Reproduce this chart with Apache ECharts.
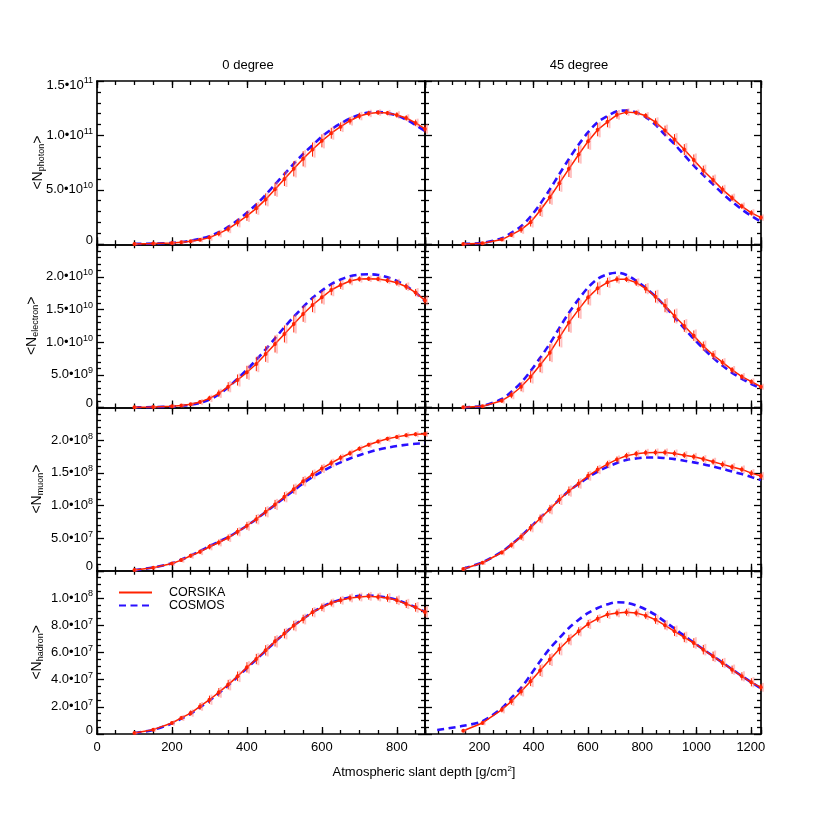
<!DOCTYPE html>
<html><head><meta charset="utf-8">
<script src="https://cdn.jsdelivr.net/npm/echarts@6/dist/echarts.min.js"></script>
<style>html,body{margin:0;padding:0;background:#fff}#c{width:817px;height:817px}</style>
</head><body><div id="c"></div>
<script>
// ---------------- DATA ----------------
const depth0 = [100,150,200,225,250,275,300,325,350,375,400,425,450,475,500,525,550,575,600,625,650,675,700,725,750,775,800,825,850,875];
const depth45 = [141,212,283,318,354,389,424,460,495,530,566,601,636,672,707,742,778,813,849,884,919,955,990,1025,1061,1096,1131,1167,1202,1237];
const depth45CosmosHadron = [45,141,212,283,318,354,389,424,460,495,530,566,601,636,672,707,742,778,813,849,884,919,955,990,1025,1061,1096,1131,1167,1202,1237];

const panelTitles = ['0 degree', '45 degree'];
const particles = ['photon', 'electron', 'muon', 'hadron'];
const seriesNames = ['CORSIKA', 'COSMOS'];
const xAxisTitle = 'Atmospheric slant depth [g/cm{s|2}]';

// unit of each row's value arrays
const rowUnit = [1e10, 1e9, 1e7, 1e7];

// photon (x1e10)
const photon0Corsika = [0.03,0.06,0.12,0.18,0.27,0.42,0.61,0.98,1.41,1.99,2.6,3.3,4.12,5.05,6.0,6.93,7.85,8.7,9.5,10.2,10.8,11.35,11.78,12.02,12.1,12.05,11.88,11.6,11.15,10.6];
const photon0Cosmos  = [0.03,0.06,0.13,0.2,0.32,0.5,0.74,1.1,1.6,2.2,2.9,3.65,4.55,5.5,6.45,7.4,8.3,9.1,9.9,10.55,11.1,11.55,11.9,12.1,12.15,12.05,11.82,11.45,10.95,10.4];
const photon0Err     = [0.03,0.05,0.08,0.1,0.12,0.15,0.2,0.25,0.3,0.35,0.45,0.5,0.55,0.6,0.65,0.7,0.7,0.65,0.6,0.5,0.4,0.35,0.3,0.25,0.2,0.2,0.25,0.25,0.3,0.35];
const photon45Corsika = [0.03,0.1,0.43,0.86,1.35,2.03,3.1,4.32,5.61,6.93,8.25,9.47,10.52,11.25,11.89,12.14,12.08,11.8,11.22,10.45,9.62,8.7,7.75,6.77,5.91,5.02,4.26,3.49,2.88,2.45];
const photon45Cosmos  = [0.03,0.12,0.55,1.05,1.65,2.55,3.7,5.05,6.45,7.84,9.16,10.3,11.22,11.78,12.23,12.29,12.1,11.68,10.98,10.05,9.2,8.18,7.22,6.35,5.5,4.66,3.9,3.2,2.6,2.08];
const photon45Err     = [0.03,0.05,0.1,0.2,0.3,0.4,0.5,0.6,0.7,0.75,0.75,0.7,0.6,0.5,0.35,0.25,0.2,0.25,0.35,0.45,0.5,0.5,0.5,0.45,0.4,0.35,0.3,0.25,0.25,0.2];

// electron (x1e9)
const electron0Corsika = [0.03,0.07,0.2,0.3,0.5,0.85,1.4,2.17,3.18,4.21,5.39,6.66,8.19,9.72,11.26,12.79,14.32,15.7,16.87,17.99,18.76,19.37,19.68,19.73,19.68,19.45,19.1,18.5,17.6,16.4];
const electron0Cosmos  = [0.03,0.06,0.15,0.25,0.42,0.72,1.2,2.0,3.1,4.4,5.8,7.3,8.9,10.6,12.3,13.9,15.4,16.8,17.9,18.9,19.6,20.1,20.35,20.4,20.3,19.95,19.4,18.6,17.6,16.3];
const electron0Err     = [0.03,0.05,0.1,0.15,0.2,0.3,0.4,0.55,0.7,0.85,1.0,1.1,1.2,1.3,1.3,1.3,1.2,1.1,0.95,0.8,0.6,0.5,0.4,0.35,0.35,0.4,0.45,0.5,0.55,0.6];
const electron45Corsika = [0.03,0.2,1.04,1.92,3.18,4.72,6.5,8.4,10.75,13.0,15.03,16.87,18.25,19.17,19.63,19.63,19.12,18.2,16.97,15.59,14.0,12.48,11.0,9.4,8.04,6.9,5.75,4.72,3.96,3.18];
const electron45Cosmos  = [0.03,0.25,1.3,2.4,3.8,5.6,7.6,9.8,12.2,14.5,16.6,18.4,19.7,20.4,20.65,20.3,19.4,18.3,17.0,15.5,13.8,12.1,10.5,9.0,7.6,6.4,5.3,4.4,3.6,2.9];
const electron45Err     = [0.03,0.1,0.3,0.5,0.7,0.9,1.1,1.3,1.4,1.4,1.3,1.1,0.9,0.7,0.5,0.4,0.5,0.7,0.9,1.0,1.0,0.9,0.8,0.7,0.6,0.5,0.45,0.4,0.35,0.3];

// muon (x1e7)
const muon0Corsika = [0.1,0.46,1.12,1.63,2.3,2.9,3.68,4.33,5.05,5.97,6.89,7.9,9.03,10.15,11.33,12.5,13.72,14.75,15.67,16.5,17.3,18.0,18.7,19.3,19.8,20.2,20.5,20.75,20.9,20.95];
const muon0Cosmos  = [0.1,0.5,1.15,1.7,2.35,3.0,3.75,4.45,5.15,6.0,6.9,7.9,9.0,10.1,11.2,12.3,13.4,14.35,15.2,15.95,16.6,17.2,17.7,18.15,18.55,18.85,19.1,19.3,19.45,19.55];
const muon0Err     = [0.05,0.1,0.2,0.25,0.3,0.35,0.4,0.45,0.5,0.55,0.6,0.65,0.7,0.7,0.7,0.7,0.65,0.6,0.55,0.5,0.45,0.4,0.35,0.3,0.3,0.3,0.3,0.3,0.3,0.3];
const muon45Corsika = [0.26,1.23,2.8,3.93,5.2,6.59,8.0,9.44,10.92,12.2,13.37,14.54,15.5,16.33,17.05,17.6,17.9,18.07,18.12,18.12,17.97,17.7,17.45,17.1,16.7,16.29,15.88,15.52,14.95,14.5];
const muon45Cosmos  = [0.3,1.3,2.9,4.0,5.3,6.7,8.1,9.5,10.9,12.2,13.3,14.3,15.2,15.9,16.5,16.95,17.2,17.35,17.35,17.25,17.1,16.85,16.6,16.3,15.95,15.6,15.2,14.8,14.35,13.9];
const muon45Err     = [0.1,0.2,0.3,0.4,0.5,0.55,0.6,0.65,0.7,0.7,0.65,0.6,0.55,0.5,0.45,0.45,0.45,0.45,0.45,0.45,0.45,0.45,0.45,0.45,0.45,0.45,0.45,0.45,0.45,0.45];

// hadron (x1e7)
const hadron0Corsika = [0.07,0.32,0.81,1.18,1.54,2.03,2.52,3.06,3.63,4.24,4.9,5.51,6.15,6.81,7.38,7.97,8.45,8.95,9.31,9.63,9.83,10.0,10.07,10.12,10.07,10.0,9.83,9.56,9.31,8.97];
const hadron0Cosmos  = [0.07,0.3,0.78,1.13,1.5,1.97,2.45,3.0,3.58,4.2,4.85,5.48,6.12,6.78,7.38,7.97,8.47,8.95,9.33,9.66,9.88,10.05,10.15,10.18,10.12,10.02,9.85,9.6,9.32,8.98];
const hadron0Err     = [0.03,0.08,0.12,0.15,0.2,0.25,0.3,0.32,0.35,0.35,0.38,0.38,0.38,0.38,0.35,0.35,0.32,0.3,0.28,0.25,0.25,0.25,0.25,0.25,0.25,0.28,0.28,0.3,0.32,0.35];
const hadron45Corsika = [0.24,0.81,1.79,2.4,3.13,3.87,4.66,5.47,6.25,6.94,7.55,8.09,8.48,8.78,8.9,8.95,8.9,8.7,8.4,7.99,7.55,7.1,6.69,6.2,5.71,5.22,4.73,4.24,3.8,3.43];
const hadron45Cosmos  = [0.3,0.6,0.95,1.9,2.65,3.4,4.35,5.35,6.3,7.06,7.79,8.4,8.9,9.26,9.53,9.68,9.65,9.45,9.15,8.75,8.25,7.75,7.22,6.72,6.22,5.73,5.24,4.75,4.26,3.8,3.35];
const hadron45Err     = [0.05,0.1,0.2,0.25,0.3,0.35,0.4,0.4,0.4,0.35,0.3,0.3,0.25,0.25,0.25,0.25,0.25,0.25,0.3,0.3,0.35,0.35,0.35,0.35,0.35,0.3,0.3,0.3,0.3,0.25];

// axis ranges and tick labels
const xMax = [875, 1237.4];
const xMajorStep = 200, xMinorStep = 50;
const xTickLabels0 = [0,200,400,600,800];
const xTickLabels45 = [200,400,600,800,1000,1200];
const yMax = [1.5e11, 2.5e10, 2.5e8, 1.2e8];
const yStep = [5e10, 5e9, 5e7, 2e7];
const yMinorSplit = [5, 5, 5, 4];
const photonTickLabels = [0, 5e10, 1e11, 1.5e11];
const electronTickLabels = [0, 5e9, 1e10, 1.5e10, 2e10];
const muonTickLabels = [0, 5e7, 1e8, 1.5e8, 2e8];
const hadronTickLabels = [0, 2e7, 4e7, 6e7, 8e7, 1e8];

// ---------------- BUILD ----------------
const panels = [
  [[photon0Corsika, photon0Cosmos, photon0Err], [photon45Corsika, photon45Cosmos, photon45Err]],
  [[electron0Corsika, electron0Cosmos, electron0Err], [electron45Corsika, electron45Cosmos, electron45Err]],
  [[muon0Corsika, muon0Cosmos, muon0Err], [muon45Corsika, muon45Cosmos, muon45Err]],
  [[hadron0Corsika, hadron0Cosmos, hadron0Err], [hadron45Corsika, hadron45Cosmos, hadron45Err]]
];
const yTickLabels = [photonTickLabels, electronTickLabels, muonTickLabels, hadronTickLabels];
const xTickLabels = [xTickLabels0, xTickLabels45];

const FONT = 'Liberation Sans, Arial, Helvetica, sans-serif';
const RED = '#ff2200', BLUE = '#2a10ff';
const GRID_LEFT = [97, 425], GRID_W = [328, 336];
const GRID_TOP = 81, GRID_H = 163.25;
const nameGaps = [51, 57, 52, 52];

const axisLineStyle = {show: true, onZero: false, lineStyle: {color: '#000', width: 1.7}};
const tickStyle = {color: '#000', width: 1.3};

const grids = [], xAxes = [], yAxes = [], series = [];

function near(list, v) { return list.some(t => Math.abs(t - v) <= Math.abs(t) * 1e-6 + 1e-9); }

function yFormatter(r) {
  return function (v) {
    if (!near(yTickLabels[r], v)) return '';
    if (Math.abs(v) < 1e-12) return '{z|0}';
    const e = Math.floor(Math.log10(v) + 1e-9);
    const m = (v / Math.pow(10, e)).toFixed(1);
    if (Math.abs(v - yMax[r]) < yMax[r] * 1e-6) return '{bT|' + m + '•10}{sT|' + e + '}';
    return '{b|' + m + '•10}{s|' + e + '}';
  };
}
const yRich = {
  b: {fontSize: 13, lineHeight: 15, fontFamily: FONT, color: '#000'},
  s: {fontSize: 9, lineHeight: 9, padding: [0, 0, 8, 0], fontFamily: FONT, color: '#000'},
  z: {fontSize: 13, lineHeight: 15, padding: [0, 0, 8, 0], fontFamily: FONT, color: '#000'},
  bT: {fontSize: 13, lineHeight: 15, padding: [8, 0, 0, 0], fontFamily: FONT, color: '#000'},
  sT: {fontSize: 9, lineHeight: 9, fontFamily: FONT, color: '#000'}
};

function renderErr(params, api) {
  const x = api.value(0), y = api.value(1), e = api.value(2);
  const lo = api.coord([x, y - e]), hi = api.coord([x, y + e]);
  return {type: 'group', children: [
    {type: 'line', shape: {x1: lo[0] + 2, y1: lo[1] + 1, x2: hi[0] + 2, y2: hi[1] - 1}, style: {stroke: 'rgba(255,120,120,0.45)', lineWidth: 2}},
    {type: 'line', shape: {x1: lo[0], y1: lo[1], x2: hi[0], y2: hi[1]}, style: {stroke: RED, lineWidth: 1}}
  ]};
}

for (let r = 0; r < 4; r++) {
  for (let c = 0; c < 2; c++) {
    const gi = r * 2 + c;
    grids.push({left: GRID_LEFT[c], top: GRID_TOP + r * GRID_H, width: GRID_W[c], height: GRID_H, outerBoundsMode: 'none', containLabel: false});
    const labelList = xTickLabels[c];
    ['bottom', 'top'].forEach(pos => {
      xAxes.push({
        type: 'value', gridIndex: gi, position: pos, min: 0, max: xMax[c], interval: xMajorStep,
        axisLine: axisLineStyle,
        axisTick: {show: true, inside: true, length: 7, lineStyle: tickStyle},
        splitLine: {show: false},
        axisLabel: {
          show: pos === 'bottom' && r === 3, margin: 7, fontSize: 13, fontFamily: FONT, color: '#000',
          showMinLabel: true, showMaxLabel: true,
          formatter: v => near(labelList, v) ? String(v) : ''
        }
      });
      xAxes.push({
        type: 'value', gridIndex: gi, position: pos, min: 0, max: xMax[c], interval: xMinorStep,
        axisLine: {show: false, onZero: false},
        axisTick: {show: true, inside: true, length: 4, lineStyle: tickStyle},
        splitLine: {show: false}, axisLabel: {show: false}
      });
    });
    ['left', 'right'].forEach(pos => {
      const ax = {
        type: 'value', gridIndex: gi, position: pos, min: 0, max: yMax[r], interval: yStep[r],
        axisLine: axisLineStyle,
        axisTick: {show: true, inside: true, length: 7, lineStyle: tickStyle},
        minorTick: {show: true, splitNumber: yMinorSplit[r], length: 4, lineStyle: tickStyle},
        splitLine: {show: false}, minorSplitLine: {show: false},
        axisLabel: {show: pos === 'left' && c === 0, margin: 4, formatter: yFormatter(r), rich: yRich,
                    showMinLabel: true, showMaxLabel: true}
      };
      if (pos === 'left' && c === 0) {
        ax.name = '<N{sub|' + particles[r] + '}>';
        ax.nameLocation = 'middle';
        ax.nameRotate = 90;
        ax.nameGap = nameGaps[r];
        ax.nameMoveOverlap = false;
        ax.nameTextStyle = {fontSize: 14, lineHeight: 16, fontFamily: FONT, color: '#000',
          rich: {sub: {fontSize: 9, lineHeight: 9, padding: [7, 0, 0, 0], fontFamily: FONT, color: '#000'}}};
      }
      yAxes.push(ax);
    });

    const [corsika, cosmos, err] = panels[r][c];
    const xs = c === 0 ? depth0 : depth45;
    const xsCosmos = (c === 1 && r === 3) ? depth45CosmosHadron : xs;
    const unit = rowUnit[r];
    const xIdx = gi * 4, yIdx = gi * 2;
    series.push({
      name: seriesNames[1], type: 'line', xAxisIndex: xIdx, yAxisIndex: yIdx,
      data: xsCosmos.map((d, i) => [d, cosmos[i] * unit]),
      showSymbol: false, symbol: 'none', smooth: 0.3, z: 2,
      lineStyle: {color: BLUE, width: 2.6, type: [7, 4.5]}, itemStyle: {color: BLUE},
      silent: true, animation: false
    });
    series.push({
      name: seriesNames[0], type: 'line', xAxisIndex: xIdx, yAxisIndex: yIdx,
      data: xs.map((d, i) => [d, corsika[i] * unit]),
      symbol: 'circle', symbolSize: 4, showSymbol: true, z: 3,
      lineStyle: {color: RED, width: 1.5}, itemStyle: {color: RED},
      silent: true, animation: false
    });
    series.push({
      name: 'err', type: 'custom', xAxisIndex: xIdx, yAxisIndex: yIdx,
      data: xs.map((d, i) => [d, corsika[i] * unit, err[i] * unit]),
      encode: {x: 0, y: 1}, renderItem: renderErr, z: 4, silent: true, animation: false
    });
  }
}

const option = {
  animation: false,
  backgroundColor: '#fff',
  textStyle: {fontFamily: FONT},
  grid: grids, xAxis: xAxes, yAxis: yAxes, series: series,
  legend: {
    data: seriesNames, orient: 'vertical', left: 118, top: 586, itemWidth: 33, itemHeight: 12,
    itemGap: 0, padding: 0, selectedMode: false,
    itemStyle: {opacity: 0},
    textStyle: {fontSize: 12.5, color: '#000', fontFamily: FONT, padding: [0, 0, 0, 12], lineHeight: 12}
  },
  graphic: [
    {type: 'text', x: 248, y: 65, style: {text: panelTitles[0], font: '13px ' + FONT, fill: '#000', align: 'center', verticalAlign: 'middle'}},
    {type: 'text', x: 579, y: 65, style: {text: panelTitles[1], font: '13px ' + FONT, fill: '#000', align: 'center', verticalAlign: 'middle'}},
    {type: 'text', x: 424, y: 772, style: {text: xAxisTitle, font: '13px ' + FONT, fill: '#000', align: 'center', verticalAlign: 'middle',
      rich: {s: {fontSize: 8, lineHeight: 8, padding: [0, 0, 7, 0], fontFamily: FONT, fill: '#000'}}}}
  ]
};
const chart = echarts.init(document.getElementById('c'), null, {renderer: 'canvas'});
chart.setOption(option);
</script></body></html>
